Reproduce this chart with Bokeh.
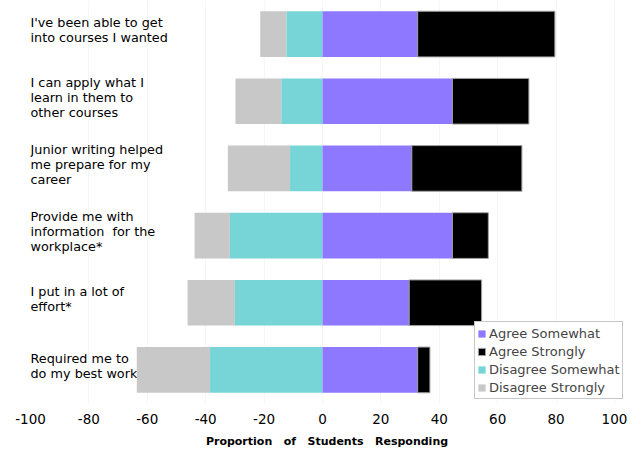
from bokeh.plotting import figure
from bokeh.models import (ColumnDataSource, FactorRange, Range1d, Legend, LegendItem,
                          FixedTicker, PrintfTickFormatter)
from bokeh.core.properties import value
from bokeh.embed import file_html
from bokeh.resources import INLINE

# Survey statements, top to bottom
statements = [
    "I've been able to get\ninto courses I wanted",
    "I can apply what I\nlearn in them to\nother courses",
    "Junior writing helped\nme prepare for my\ncareer",
    "Provide me with\ninformation\u00a0 for the\nworkplace*",
    "I put in a lot of\neffort*",
    "Required me to\ndo my best work",
]

# Percent of students in each response group
disagree_strongly = [9.0, 15.7, 21.3, 12.1, 16.2, 25.1]
disagree_somewhat = [12.3, 14.1, 11.1, 31.7, 30.0, 38.5]
agree_somewhat = [32.6, 44.5, 30.6, 44.5, 29.7, 32.6]
agree_strongly = [47.0, 26.2, 37.7, 12.3, 24.8, 4.2]

x_ticks = [-100, -80, -60, -40, -20, 0, 20, 40, 60, 80, 100]

series_names = ["Agree Somewhat", "Agree Strongly", "Disagree Somewhat", "Disagree Strongly"]
series_colors = ["#8E78FF", "#000000", "#78D5D7", "#C8C8C8"]

# Diverging extents: disagreement runs left of zero, agreement right
ds_left = [-(a + b) for a, b in zip(disagree_somewhat, disagree_strongly)]
ds_right = [-a for a in disagree_somewhat]
dm_left = [-a for a in disagree_somewhat]
dm_right = [0.0] * len(statements)
am_left = [0.0] * len(statements)
am_right = list(agree_somewhat)
as_left = list(agree_somewhat)
as_right = [a + b for a, b in zip(agree_somewhat, agree_strongly)]

src = ColumnDataSource(dict(
    y=statements,
    ds_left=ds_left, ds_right=ds_right,
    dm_left=dm_left, dm_right=dm_right,
    am_left=am_left, am_right=am_right,
    as_left=as_left, as_right=as_right,
))

# Frame runs a little past 100 so the legend box fits inside it
p = figure(
    width=641, height=454,
    y_range=FactorRange(*reversed(statements), range_padding=0),
    x_range=Range1d(-100, 103.1),
    output_backend="svg", toolbar_location=None,
    min_border_left=30, min_border_right=18, min_border_top=0, min_border_bottom=51,
)
p.outline_line_color = None
p.yaxis.visible = False
p.ygrid.grid_line_color = None
p.xgrid.grid_line_color = "#f6f6f6"
p.xgrid.ticker = FixedTicker(ticks=x_ticks)

# Statement labels placed inside the plot, left aligned (drawn beneath the bars)
lab_src = ColumnDataSource(dict(x=[-100] * len(statements), y=statements, t=statements))
p.text(x="x", y="y", text="t", source=lab_src, x_offset=0, y_offset=-4,
       text_align="left", text_baseline="middle",
       text_font=value("DejaVu Sans"), text_font_size="12.8px",
       text_line_height=1.0, text_color="#000000")

bh = 0.68
r_dstr = p.hbar(y="y", left="ds_left", right="ds_right", height=bh, source=src,
                fill_color=series_colors[3], line_color=None)
r_dsom = p.hbar(y="y", left="dm_left", right="dm_right", height=bh, source=src,
                fill_color=series_colors[2], line_color=None)
r_asom = p.hbar(y="y", left="am_left", right="am_right", height=bh, source=src,
                fill_color=series_colors[0], line_color=None)
r_astr = p.hbar(y="y", left="as_left", right="as_right", height=bh, source=src,
                fill_color=series_colors[1], line_color="#a0a0a0", line_width=1)

ax = p.xaxis[0]
ax.ticker = FixedTicker(ticks=x_ticks)
ax.formatter = PrintfTickFormatter(format="%d")
ax.axis_line_color = None
ax.major_tick_line_color = None
ax.minor_tick_line_color = None
ax.major_tick_out = 0
ax.major_tick_in = 0
ax.major_label_standoff = 10
ax.major_label_text_font = "DejaVu Sans"
ax.major_label_text_font_size = "13.5px"
ax.major_label_text_color = "#000000"
ax.axis_label = "Proportion\u00a0\u00a0 of\u00a0\u00a0 Students\u00a0\u00a0 Responding"
ax.axis_label_text_font = "DejaVu Sans"
ax.axis_label_text_font_style = "bold"
ax.axis_label_text_font_size = "11px"
ax.axis_label_text_color = "#000000"
ax.axis_label_standoff = 8

legend = Legend(
    items=[
        LegendItem(label=series_names[0], renderers=[r_asom]),
        LegendItem(label=series_names[1], renderers=[r_astr]),
        LegendItem(label=series_names[2], renderers=[r_dsom]),
        LegendItem(label=series_names[3], renderers=[r_dstr]),
    ],
    location=(444, 4),
    orientation="vertical",
    border_line_color="#909090", border_line_width=1,
    background_fill_color="#ffffff", background_fill_alpha=1,
    padding=2, margin=0, spacing=0,
    glyph_width=9, glyph_height=9, label_standoff=3,
    label_text_font="DejaVu Sans", label_text_font_size="13px",
    label_height=18, label_text_line_height=1.0,
)
p.add_layout(legend)

open("out.html", "w").write(file_html(p, INLINE))
